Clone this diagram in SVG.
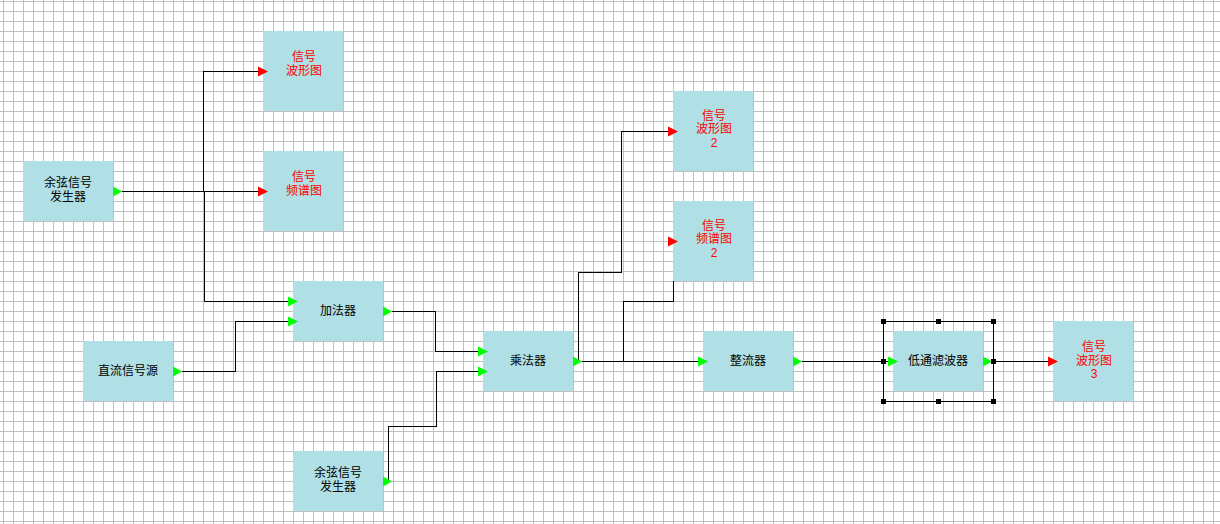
<svg xmlns="http://www.w3.org/2000/svg" width="1220" height="524" viewBox="0 0 1220 524">
<defs>
<pattern id="grid" x="3" y="1" width="10" height="10" patternUnits="userSpaceOnUse">
<rect x="0" y="0" width="1" height="10" fill="#c0c0c0"/>
<rect x="0" y="0" width="10" height="1" fill="#c0c0c0"/>
</pattern>
<polygon id="outp" points="0,-5 9,0 0,5" fill="#00ff00"/>
<polygon id="inp" points="-5,-5 5,0 -5,5" fill="#00ff00"/>
<polygon id="inr" points="-5,-5 5,0 -5,5" fill="#ff0000"/>
</defs>
<style>
.box{fill:#b0dfe5}
.t{font-family:"Liberation Sans","Noto Sans CJK SC",sans-serif;font-size:12px;text-anchor:middle;fill:#000}
.r{fill:#ff0000}
.w{fill:none;stroke:#000;stroke-width:1;shape-rendering:crispEdges}
.h{fill:#000}
</style>
<rect width="1220" height="524" fill="#ffffff"/>
<rect width="1220" height="524" fill="url(#grid)"/>

<g id="connectors">
<path class="w" d="M122,191.5H203.5V71.5H258"/>
<path class="w" d="M122,191.5H258"/>
<path class="w" d="M122,191.5H204.5V301.5H288"/>
<path class="w" d="M182,371.5H235.5V321.5H288"/>
<path class="w" d="M392,311.5H435.5V351.5H478"/>
<path class="w" d="M388.5,481V426.5H436.5V371.5H478"/>
<path class="w" d="M578.5,361.5V272.5H621.5V131.5H668"/>
<path class="w" d="M582,361.5H623.5V301.5H673.5V241"/>
<path class="w" d="M582,361.5H698"/>
<path class="w" d="M802,361.5H888"/>
<path class="w" d="M992,361.5H1048"/>
</g>

<g id="cos1">
<rect class="box" x="23" y="161" width="90" height="60"/>
<text class="t" x="68" y="187">余弦信号</text>
<text class="t" x="68" y="200.5">发生器</text>
<use href="#outp" x="113" y="191.5"/>
</g>

<g id="wave1">
<rect class="box" x="263" y="31" width="80" height="80"/>
<text class="t r" x="304" y="61">信号</text>
<text class="t r" x="304" y="74.5">波形图</text>
<use href="#inr" x="263" y="71.5"/>
</g>

<g id="spec1">
<rect class="box" x="263" y="151" width="80" height="80"/>
<text class="t r" x="304" y="181">信号</text>
<text class="t r" x="304" y="194.5">频谱图</text>
<use href="#inr" x="263" y="191.5"/>
</g>

<g id="adder">
<rect class="box" x="293" y="281" width="90" height="60"/>
<text class="t" x="338" y="315">加法器</text>
<use href="#inp" x="293" y="301.5"/>
<use href="#inp" x="293" y="321.5"/>
<use href="#outp" x="383" y="311.5"/>
</g>

<g id="dc">
<rect class="box" x="83" y="341" width="90" height="60"/>
<text class="t" x="128" y="375">直流信号源</text>
<use href="#outp" x="173" y="371.5"/>
</g>

<g id="cos2">
<rect class="box" x="293" y="451" width="90" height="60"/>
<text class="t" x="338" y="477">余弦信号</text>
<text class="t" x="338" y="490.5">发生器</text>
<use href="#outp" x="383" y="481.5"/>
</g>

<g id="mult">
<rect class="box" x="483" y="331" width="90" height="60"/>
<text class="t" x="528" y="365">乘法器</text>
<use href="#inp" x="483" y="351.5"/>
<use href="#inp" x="483" y="371.5"/>
<use href="#outp" x="573" y="361.5"/>
</g>

<g id="wave2">
<rect class="box" x="673" y="91" width="80" height="80"/>
<text class="t r" x="714" y="119.5">信号</text>
<text class="t r" x="714" y="133">波形图</text>
<text class="t r" x="714" y="146.5">2</text>
<use href="#inr" x="673" y="131.5"/>
</g>

<g id="spec2">
<rect class="box" x="673" y="201" width="80" height="80"/>
<text class="t r" x="714" y="229.5">信号</text>
<text class="t r" x="714" y="243">频谱图</text>
<text class="t r" x="714" y="256.5">2</text>
<use href="#inr" x="673" y="241.5"/>
</g>

<g id="rectifier">
<rect class="box" x="703" y="331" width="90" height="60"/>
<text class="t" x="748" y="365">整流器</text>
<use href="#inp" x="703" y="361.5"/>
<use href="#outp" x="793" y="361.5"/>
</g>

<g id="lowpass">
<rect class="box" x="893" y="331" width="90" height="60"/>
<text class="t" x="938" y="365">低通滤波器</text>
<use href="#inp" x="893" y="361.5"/>
<use href="#outp" x="983" y="361.5"/>
<rect class="w" x="883.5" y="321.5" width="110" height="80"/>
<rect class="h" x="881" y="319" width="5" height="5"/>
<rect class="h" x="936" y="319" width="5" height="5"/>
<rect class="h" x="991" y="319" width="5" height="5"/>
<rect class="h" x="881" y="359" width="5" height="5"/>
<rect class="h" x="991" y="359" width="5" height="5"/>
<rect class="h" x="881" y="399" width="5" height="5"/>
<rect class="h" x="936" y="399" width="5" height="5"/>
<rect class="h" x="991" y="399" width="5" height="5"/>
</g>

<g id="wave3">
<rect class="box" x="1053" y="321" width="80" height="80"/>
<text class="t r" x="1094" y="351">信号</text>
<text class="t r" x="1094" y="364.5">波形图</text>
<text class="t r" x="1094" y="378">3</text>
<use href="#inr" x="1053" y="361.5"/>
</g>
</svg>
